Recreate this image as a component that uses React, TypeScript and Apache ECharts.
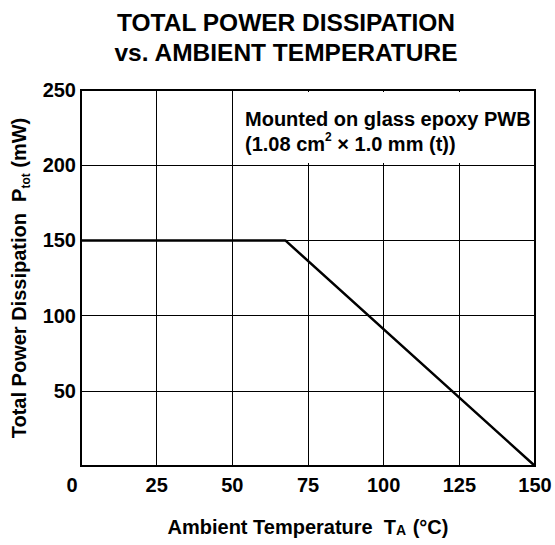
import React, { useEffect, useRef } from "react";
import * as echarts from "echarts";

const titleLines = ["TOTAL POWER DISSIPATION", "vs. AMBIENT TEMPERATURE"];
const xTicks = [0, 25, 50, 75, 100, 125, 150];
const yTicks = [0, 50, 100, 150, 200, 250];
const tempA = [0, 67.5, 150];
const powerTot = [150, 150, 0];
const noteLines = ["Mounted on glass epoxy PWB", "(1.08 cm{sup|2} × 1.0 mm (t))"];

export default function App() {
  const ref = useRef<HTMLDivElement>(null);
  useEffect(() => {
    document.body.style.margin = "0";
    const chart = echarts.init(ref.current!, null, { renderer: "svg" });
    const font = "Liberation Sans, Arial, sans-serif";
    chart.setOption({
      animation: false,
      backgroundColor: "#fff",
      grid: {
        left: 81,
        right: 20,
        top: 90,
        bottom: 79,
        show: true,
        borderColor: "#000",
        borderWidth: 2,
      },
      xAxis: {
        type: "value",
        min: xTicks[0],
        max: xTicks[xTicks.length - 1],
        interval: 25,
        name: "Ambient Temperature  T{sm|A} (°C)",
        nameLocation: "middle",
        nameGap: 51,
        nameTextStyle: {
          color: "#000",
          fontFamily: font,
          fontWeight: "bold",
          fontSize: 20,
          rich: {
            sm: { fontSize: 14, fontWeight: "bold", fontFamily: font, color: "#000", verticalAlign: "bottom", padding: [0, 1, 0, 0] },
          },
        },
        axisLine: { lineStyle: { color: "#000", width: 2 } },
        axisTick: { show: false },
        splitLine: { lineStyle: { color: "#000", width: 1 } },
        axisLabel: {
          color: "#000",
          fontFamily: font,
          fontWeight: "bold",
          fontSize: 20,
          margin: 9,
          formatter: (v: number) => (v === 0 ? "{z|0}" : String(v)),
          rich: {
            z: { color: "#000", fontFamily: font, fontWeight: "bold", fontSize: 20, padding: [0, 18, 0, 0] },
          },
        },
      },
      yAxis: {
        type: "value",
        min: yTicks[0],
        max: yTicks[yTicks.length - 1],
        interval: 50,
        name: "Total Power Dissipation  P{sub|tot} (mW)",
        nameLocation: "middle",
        nameGap: 49,
        nameTextStyle: {
          color: "#000",
          fontFamily: font,
          fontWeight: "bold",
          fontSize: 20,
          rich: {
            sub: { fontSize: 12, fontWeight: "bold", fontFamily: font, color: "#000", verticalAlign: "bottom", padding: [0, 0, -3, 0] },
          },
        },
        axisLine: { show: true, lineStyle: { color: "#000", width: 2 } },
        axisTick: { show: false },
        splitLine: { lineStyle: { color: "#000", width: 1 } },
        axisLabel: {
          color: "#000",
          fontFamily: font,
          fontWeight: "bold",
          fontSize: 20,
          margin: 5,
          formatter: (v: number) => (v === 0 ? "" : String(v)),
        },
      },
      graphic: [
        {
          type: "text",
          x: 286,
          y: 7,
          z: 10,
          style: {
            text: titleLines.join("\n"),
            fill: "#000",
            font: `bold 24.5px ${font}`,
            lineHeight: 30,
            textAlign: "center",
            textVerticalAlign: "top",
          },
        },
        {
          type: "rect",
          z: 1,
          shape: { x: 238, y: 92, width: 295, height: 71 },
          style: { fill: "#fff" },
        },
        {
          type: "text",
          z: 3,
          x: 245,
          y: 106,
          style: {
            text: noteLines.join("\n"),
            fill: "#000",
            font: `bold 20px ${font}`,
            lineHeight: 25,
            textAlign: "left",
            textVerticalAlign: "top",
            rich: {
              sup: { fontSize: 12, fontWeight: "bold", fill: "#000", fontFamily: font, verticalAlign: "top", padding: [0, 0, 8, 0] },
            },
          },
        },
      ],
      series: [
        {
          type: "line",
          data: tempA.map((t, i) => [t, powerTot[i]]),
          showSymbol: false,
          lineStyle: { color: "#000", width: 2.5 },
          z: 5,
        },
      ],
    });
    return () => chart.dispose();
  }, []);
  return <div ref={ref} style={{ width: 555, height: 545 }} />;
}
